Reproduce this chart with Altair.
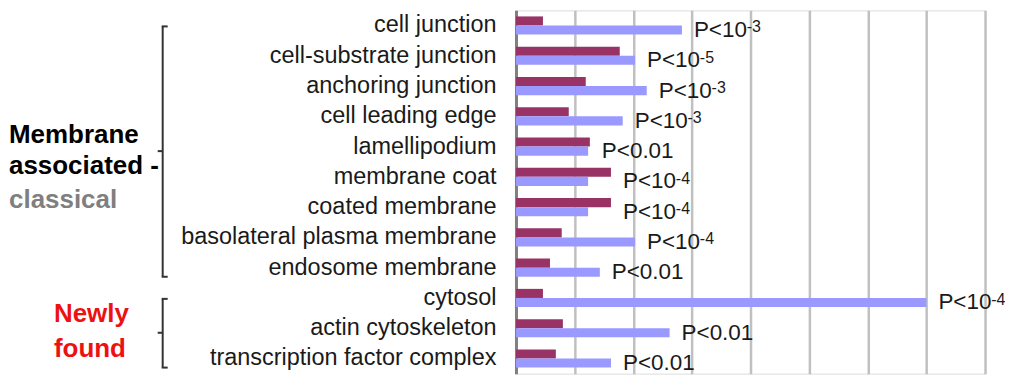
import altair as alt
import pandas as pd

categories = [
    "cell junction", "cell-substrate junction", "anchoring junction",
    "cell leading edge", "lamellipodium", "membrane coat", "coated membrane",
    "basolateral plasma membrane", "endosome membrane", "cytosol",
    "actin cytoskeleton", "transcription factor complex",
]
dark_values = [0.46, 1.77, 1.19, 0.90, 1.26, 1.62, 1.62, 0.78, 0.58, 0.46, 0.80, 0.68]
light_values = [2.83, 2.03, 2.23, 1.82, 1.23, 1.23, 1.23, 2.03, 1.43, 7.00, 2.62, 1.62]
p_base = ["P<10", "P<10", "P<10", "P<10", "P<0.01", "P<10", "P<10", "P<10",
          "P<0.01", "P<10", "P<0.01", "P<0.01"]
p_exp = ["-3", "-5", "-3", "-3", "", "-4", "-4", "-4", "", "-4", "", ""]
grid_values = [0, 1, 2, 3, 4, 5, 6, 7, 8]

group_first = ["cell junction", "cytosol"]
group_last = ["endosome membrane", "transcription factor complex"]
group_mid = ["lamellipodium", "actin cytoskeleton"]

bars = pd.DataFrame(
    [{"cat": c, "series": "dark", "value": d} for c, d in zip(categories, dark_values)]
    + [{"cat": c, "series": "light", "value": l} for c, l in zip(categories, light_values)]
)
labels = pd.DataFrame({
    "cat": categories,
    "maxv": [max(d, l) for d, l in zip(dark_values, light_values)],
    "base": p_base,
    "exp": p_exp,
})
groups = pd.DataFrame({"first": group_first, "last": group_last, "mid": group_mid})

FONT = "Liberation Sans"
yscale = alt.Scale(domain=categories, paddingInner=0.4, paddingOuter=0.2)
xscale = alt.Scale(domain=[0, 8], nice=False, zero=True)

bar_layer = alt.Chart(bars).mark_bar().encode(
    x=alt.X("value:Q", scale=xscale, axis=alt.Axis(
        values=grid_values, labels=False, ticks=False, domain=False, title=None,
        grid=True, gridColor="#c0c0c0", gridWidth=2.5)),
    y=alt.Y("cat:N", scale=yscale, sort=categories, title=None, axis=alt.Axis(
        labelFont=FONT, labelFontSize=23.5, labelColor="#1a1a1a", labelLimit=400,
        ticks=False, labelPadding=20, domain=True, domainColor="#808080",
        domainWidth=3, grid=False)),
    yOffset=alt.YOffset("series:N", scale=alt.Scale(domain=["dark", "light"], paddingInner=0, paddingOuter=0)),
    color=alt.Color("series:N", scale=alt.Scale(domain=["dark", "light"],
                                                 range=["#993366", "#9999FF"]), legend=None),
)

base_text = alt.Chart(labels).mark_text(
    align="left", baseline="alphabetic", dx=12, dy=11.5, fontSize=22.5, font=FONT, color="#1a1a1a"
).encode(
    x=alt.X("maxv:Q", scale=xscale),
    y=alt.Y("cat:N", scale=yscale, sort=categories),
    text="base:N",
)
exp_text = alt.Chart(labels).mark_text(
    align="left", baseline="alphabetic", dx=65, dy=7, fontSize=16, font=FONT, color="#1a1a1a"
).encode(
    x=alt.X("maxv:Q", scale=xscale),
    y=alt.Y("cat:N", scale=yscale, sort=categories),
    text="exp:N",
)

BR = "#333333"
br_vert = alt.Chart(groups).mark_rule(color=BR, strokeWidth=2).encode(
    x=alt.value(-354),
    y=alt.Y("first:N", scale=yscale, sort=categories, bandPosition=0.55),
    y2=alt.Y2("last:N", bandPosition=1.0),
)
br_top = alt.Chart(groups).mark_rule(color=BR, strokeWidth=2).encode(
    x=alt.value(-355), x2=alt.value(-349),
    y=alt.Y("first:N", scale=yscale, sort=categories, bandPosition=0.55),
)
br_bot = alt.Chart(groups).mark_rule(color=BR, strokeWidth=2).encode(
    x=alt.value(-355), x2=alt.value(-349),
    y=alt.Y("last:N", scale=yscale, sort=categories, bandPosition=1.0),
)
br_mid = alt.Chart(groups).mark_rule(color=BR, strokeWidth=2).encode(
    x=alt.value(-359), x2=alt.value(-354),
    y=alt.Y("mid:N", scale=yscale, sort=categories, bandPosition=0.75),
)

def group_line(text, anchor_col, row, dx_px, dy, color):
    return alt.Chart(groups.iloc[[row]]).mark_text(
        align="left", baseline="alphabetic", dy=dy, fontSize=26, fontWeight="bold",
        font=FONT, color=color, text=text,
    ).encode(
        x=alt.value(dx_px),
        y=alt.Y(f"{anchor_col}:N", scale=yscale, sort=categories),
    )

g1 = group_line("Membrane", "mid", 0, -508, -3.5, "#000000")
g2 = group_line("associated -", "mid", 0, -508, 27.5, "#000000")
g3 = group_line("classical", "mid", 0, -508, 61.5, "#7f7f7f")
g4 = group_line("Newly", "mid", 1, -463, -6.5, "#ee1111")
g5 = group_line("found", "mid", 1, -463, 28.5, "#ee1111")

chart = alt.layer(
    bar_layer, base_text, exp_text, br_vert, br_top, br_bot, br_mid, g1, g2, g3, g4, g5
).properties(
    width=470, height=364,
    autosize=alt.AutoSizeParams(type="none"),
    padding={"left": 509, "top": 2, "right": 20, "bottom": 4},
).configure_view(stroke=None).configure(background="white")

chart.save("out.html", embed_options={"renderer": "svg", "actions": False})
